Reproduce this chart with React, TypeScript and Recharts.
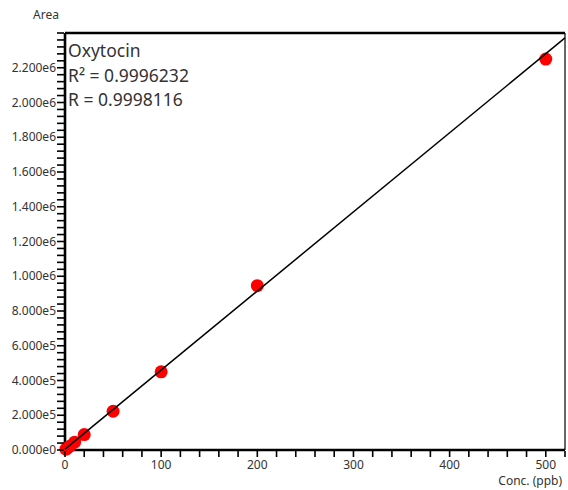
import { ScatterChart, Scatter, XAxis, YAxis, ReferenceLine } from "recharts";

// calibration points
const concPpb = [1, 2, 5, 10, 20, 50, 100, 200, 500];
const areaCounts = [4.5e3, 9e3, 2.2e4, 4.5e4, 8.9e4, 2.23e5, 4.5e5, 9.46e5, 2.25e6];

// regression line end points
const fitX = [0, 520];
const fitY = [5e3, 2.372e6];

const xMajorTicks = [0, 100, 200, 300, 400, 500];
const yMajorTicks = [0, 2e5, 4e5, 6e5, 8e5, 1e6, 1.2e6, 1.4e6, 1.6e6, 1.8e6, 2e6, 2.2e6];
const xMax = 520;
const yMax = 2.4e6;

const xTicks = Array.from({ length: xMax / 20 + 1 }, (_, i) => i * 20);
const yTicks = Array.from({ length: yMax / 4e4 + 1 }, (_, i) => i * 4e4);

const points = concPpb.map((x, i) => ({ x, y: areaCounts[i] }));
const fitLine = fitX.map((x, i) => ({ x, y: fitY[i] }));

const FONT = "'Noto Sans', sans-serif";
const TEXT = "#333";

const fmtY = (v: number) => v.toExponential(3).replace("e+", "e");
const isMajor = (list: number[], v: number) => list.some((m) => Math.abs(m - v) < 1e-6);

const YTick = (props: any) => {
  const { x, y, payload } = props;
  const major = isMajor(yMajorTicks, payload.value);
  return (
    <g>
      <line x1={x - 8} x2={x - 1} y1={y} y2={y} stroke="#000" strokeWidth={1.6} />
      {major && (
        <text x={x - 9} y={y} dy={4} textAnchor="end" fontSize={12} fontFamily={FONT} fill={TEXT}>
          {fmtY(payload.value)}
        </text>
      )}
    </g>
  );
};

const XTick = (props: any) => {
  const { x, y, payload } = props;
  const major = isMajor(xMajorTicks, payload.value);
  return (
    <g>
      <line x1={x} x2={x} y1={y + 1} y2={y + 7} stroke="#000" strokeWidth={1.6} />
      {major && (
        <text x={x} y={y + 19} textAnchor="middle" fontSize={12} fontFamily={FONT} fill={TEXT}>
          {payload.value}
        </text>
      )}
    </g>
  );
};

const Dot = (props: any) => <circle cx={props.cx} cy={props.cy} r={6.5} fill="#f00" />;
const NoDot = () => <g />;

export default function App() {
  return (
    <div style={{ position: "absolute", left: 0, top: 0, width: 568, height: 490, background: "#fff", fontFamily: FONT }}>
      <ScatterChart width={568} height={490} margin={{ top: 33, right: 3, bottom: 0, left: 0 }}>
        <XAxis
          type="number"
          dataKey="x"
          domain={[0, xMax]}
          ticks={xTicks}
          interval={0}
          tickSize={0}
          tickMargin={0}
          tick={<XTick />}
          height={40}
          axisLine={{ stroke: "#000", strokeWidth: 2.6 }}
        />
        <YAxis
          type="number"
          dataKey="y"
          domain={[0, yMax]}
          ticks={yTicks}
          interval={0}
          tickSize={0}
          tickMargin={0}
          tick={<YTick />}
          width={65}
          axisLine={{ stroke: "#000", strokeWidth: 2.6 }}
        />
        <ReferenceLine y={yMax} stroke="#000" strokeWidth={2.6} />
        <ReferenceLine x={xMax} stroke="#000" strokeWidth={1.2} />
        <Scatter data={points} shape={<Dot />} isAnimationActive={false} />
        <Scatter data={fitLine} line={{ stroke: "#000", strokeWidth: 1.5 }} shape={<NoDot />} isAnimationActive={false} />
      </ScatterChart>
      <div style={{ position: "absolute", left: 33, top: 9, fontSize: 12, lineHeight: "12px", color: TEXT }}>Area</div>
      <div style={{ position: "absolute", right: 6, top: 475, fontSize: 12, lineHeight: "12px", color: TEXT }}>Conc. (ppb)</div>
      <div style={{ position: "absolute", left: 68, top: 38, fontSize: 17.5, lineHeight: "24.5px", color: TEXT }}>
        <div>Oxytocin</div>
        <div>R² = 0.9996232</div>
        <div>R = 0.9998116</div>
      </div>
    </div>
  );
}
